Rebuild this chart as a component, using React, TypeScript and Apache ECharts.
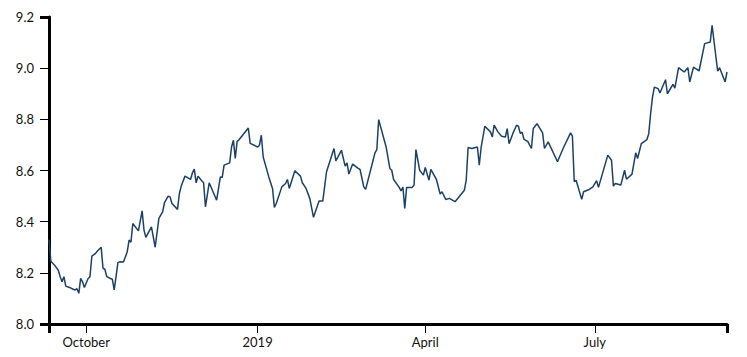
import React, { useEffect, useRef } from "react";
import * as echarts from "echarts";

// Series start date (local time) and day offsets of each observation
const startDate = [2018, 8, 11]; // 2018-09-11
const endOffset = 364; // 2019-09-10

const dayOffsets = [
  0, 1, 3, 5, 6, 7, 8, 9, 11, 13, 14, 15, 16, 17, 18, 19, 21, 22, 23, 25, 26, 28, 29, 30, 31, 33, 34, 35, 36, 37,
  38, 40, 42, 43, 44, 45, 46, 48, 50, 51, 52, 55, 57, 59, 61, 62, 64, 65, 66, 69, 70, 71, 73, 76, 77, 78, 79, 80, 82, 83,
  84, 86, 90, 92, 93, 94, 97, 98, 99, 100, 101, 102, 107, 108, 112, 113, 114, 115, 118, 120, 121, 122, 125, 127, 128, 129, 132, 135, 136, 138,
  140, 142, 145, 147, 149, 153, 154, 157, 159, 160, 161, 163, 166, 167, 169, 170, 174, 175, 176, 177, 181, 183, 184, 185, 188, 189, 190, 191, 192, 195,
  196, 197, 199, 201, 202, 204, 205, 208, 210, 211, 213, 215, 218, 223, 224, 225, 227, 230, 231, 232, 234, 237, 238, 239, 241, 243, 245, 246, 247, 249,
  251, 252, 253, 254, 255, 257, 259, 260, 262, 265, 266, 268, 273, 276, 280, 281, 282, 283, 286, 287, 290, 292, 294, 295, 300, 302, 303, 304, 307, 309,
  310, 313, 315, 316, 318, 321, 322, 323, 324, 325, 327, 328, 331, 332, 335, 336, 338, 341, 343, 344, 346, 349, 352, 355, 356, 359, 360, 363, 364,
];

const values = [
  8.33, 8.245, 8.23, 8.21, 8.185, 8.165, 8.185, 8.148, 8.143, 8.136, 8.133, 8.138, 8.12, 8.178, 8.165, 8.143, 8.178, 8.185, 8.265, 8.276, 8.285, 8.3, 8.218, 8.214, 8.185, 8.178, 8.175, 8.133, 8.185, 8.24,
  8.243, 8.242, 8.282, 8.328, 8.32, 8.393, 8.383, 8.364, 8.442, 8.367, 8.339, 8.38, 8.3, 8.413, 8.438, 8.474, 8.5, 8.497, 8.471, 8.448, 8.51, 8.539, 8.578, 8.565, 8.591, 8.605, 8.552, 8.578, 8.56, 8.552,
  8.458, 8.552, 8.484, 8.575, 8.573, 8.621, 8.63, 8.692, 8.718, 8.647, 8.714, 8.72, 8.766, 8.706, 8.692, 8.699, 8.738, 8.653, 8.575, 8.53, 8.456, 8.471, 8.536, 8.549, 8.565, 8.53, 8.599, 8.578, 8.552, 8.53,
  8.491, 8.417, 8.481, 8.481, 8.595, 8.686, 8.638, 8.679, 8.617, 8.63, 8.586, 8.625, 8.608, 8.604, 8.536, 8.526, 8.64, 8.669, 8.682, 8.799, 8.692, 8.608, 8.601, 8.565, 8.534, 8.52, 8.535, 8.452, 8.534, 8.534,
  8.543, 8.682, 8.601, 8.582, 8.612, 8.562, 8.604, 8.565, 8.508, 8.517, 8.487, 8.491, 8.478, 8.523, 8.562, 8.69, 8.686, 8.692, 8.621, 8.69, 8.773, 8.751, 8.731, 8.777, 8.751, 8.734, 8.731, 8.764, 8.705, 8.744,
  8.777, 8.773, 8.745, 8.75, 8.722, 8.714, 8.686, 8.764, 8.783, 8.747, 8.686, 8.712, 8.634, 8.686, 8.747, 8.734, 8.556, 8.562, 8.487, 8.517, 8.526, 8.536, 8.56, 8.534, 8.66, 8.64, 8.539, 8.549, 8.543, 8.601,
  8.566, 8.586, 8.669, 8.647, 8.705, 8.721, 8.744, 8.823, 8.887, 8.926, 8.92, 8.903, 8.955, 8.9, 8.937, 8.922, 9.002, 8.985, 9.002, 8.946, 9.004, 8.989, 9.096, 9.102, 9.167, 8.988, 9.002, 8.946, 8.985,
];

const tickDates = [
  [2018, 9, 1],
  [2019, 0, 1],
  [2019, 3, 1],
  [2019, 6, 1],
];
const tickLabels = ["October", "2019", "April", "July"];

const yMin = 8.0;
const yMax = 9.2;
const yStep = 0.2;

const dayTs = (offset: number) =>
  new Date(startDate[0], startDate[1], startDate[2] + offset).getTime();

export default function App() {
  const ref = useRef<HTMLDivElement>(null);

  useEffect(() => {
    document.body.style.margin = "0";
    if (!ref.current) return;
    const chart = echarts.init(ref.current, null, { renderer: "svg" });

    const seriesData = dayOffsets.map((d, i) => [dayTs(d), values[i]]);
    const tickTs = tickDates.map((t) => new Date(t[0], t[1], t[2]).getTime());
    const minTs = dayTs(0);
    const maxTs = dayTs(endOffset);

    const font = "Lato, 'Open Sans', sans-serif";
    const axisColor = "#000";
    const tickLen = 9;

    chart.setOption({
      animation: false,
      grid: {
        left: 49,
        right: 20,
        top: 17,
        bottom: 33,
        containLabel: false,
        outerBoundsMode: "none",
      },
      xAxis: [
        {
          type: "value",
          position: "bottom",
          min: minTs,
          max: maxTs,
          scale: true,
          splitLine: { show: false },
          axisLine: { show: true, onZero: false, lineStyle: { color: axisColor, width: 3 } },
          axisTick: {
            show: true,
            length: tickLen,
            lineStyle: { color: axisColor, width: 1 },
            customValues: tickTs,
          },
          axisLabel: {
            customValues: tickTs,
            margin: 11,
            color: "#111",
            fontFamily: font,
            fontSize: 13,
            formatter: (v: number) => {
              const i = tickTs.findIndex((t) => Math.abs(t - v) < 3600 * 1000 * 12);
              return i >= 0 ? tickLabels[i] : "";
            },
          },
        },
        {
          // outer (end) ticks of the domain, drawn as thick as the axis line
          type: "value",
          position: "bottom",
          offset: 0,
          min: minTs,
          max: maxTs,
          scale: true,
          splitLine: { show: false },
          axisLine: { show: false, onZero: false },
          axisLabel: { show: false },
          axisTick: {
            show: true,
            length: tickLen,
            lineStyle: { color: axisColor, width: 3 },
            customValues: [minTs, maxTs],
          },
        },
      ],
      yAxis: [
        {
          type: "value",
          position: "left",
          min: yMin,
          max: yMax,
          interval: yStep,
          splitLine: { show: false },
          axisLine: { show: true, onZero: false, lineStyle: { color: axisColor, width: 3 } },
          axisTick: { show: true, length: tickLen, lineStyle: { color: axisColor, width: 1 } },
          axisLabel: {
            margin: 15,
            color: "#111",
            fontFamily: font,
            fontSize: 13,
            formatter: (v: number) => v.toFixed(1),
          },
        },
        {
          type: "value",
          position: "left",
          offset: 0,
          min: yMin,
          max: yMax,
          interval: yStep,
          splitLine: { show: false },
          axisLine: { show: false, onZero: false },
          axisLabel: { show: false },
          axisTick: {
            show: true,
            length: tickLen,
            lineStyle: { color: axisColor, width: 3 },
            customValues: [yMin, yMax],
          },
        },
      ],
      series: [
        {
          type: "line",
          xAxisIndex: 0,
          yAxisIndex: 0,
          data: seriesData,
          showSymbol: false,
          symbol: "none",
          lineStyle: { color: "#1c4166", width: 1.5 },
          itemStyle: { color: "#1c4166" },
        },
      ],
    });

    return () => chart.dispose();
  }, []);

  return <div ref={ref} style={{ width: 747, height: 357 }} />;
}
